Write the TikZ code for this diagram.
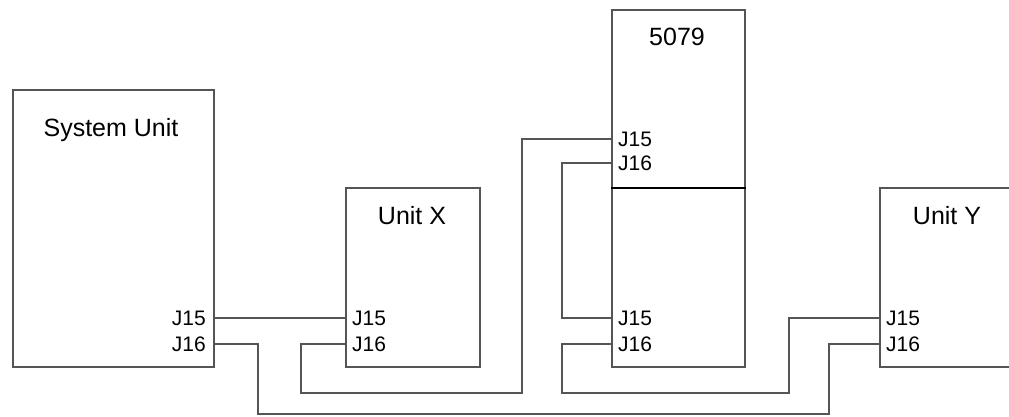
\documentclass[tikz,border=0pt]{standalone}
\usepackage{fontspec}
\setmainfont{Liberation Sans}
\definecolor{wire}{RGB}{85,85,85}
\tikzset{
%Define style for boxes, labels and cables
unitbox/.style={draw=wire, line width=1.8pt, fill=white, inner sep=0pt},
title/.style={font=\fontsize{25}{29}\selectfont, anchor=base},
jack/.style={font=\fontsize{21}{25}\selectfont, inner xsep=7pt, inner ysep=0pt},
cable/.style={draw=wire, line width=1.8pt},
}
\begin{document}
\begin{tikzpicture}[x=1pt,y=-1pt]

% picture frame
\clip (0,0) rectangle (1009,417);

% System Unit
\node[unitbox, anchor=north west, minimum width=201pt, minimum height=277pt] (su) at (12,89) {};
\node[title] (sutitle) at (111,137) {System Unit};
\node[jack, anchor=east] (suj15) at (213,318) {J15};
\node[jack, anchor=east] (suj16) at (213,344) {J16};

% Unit X
\node[unitbox, anchor=north west, minimum width=134pt, minimum height=179pt] (ux) at (345,187) {};
\node[title] (uxtitle) at (412,224) {Unit X};
\node[jack, anchor=west] (uxj15) at (345,318) {J15};
\node[jack, anchor=west] (uxj16) at (345,344) {J16};

% 5079, two halves
\node[unitbox, anchor=north west, minimum width=133pt, minimum height=357pt] (box) at (611,9) {};
\draw[line width=1.8pt] (box.west |- 0,188) coordinate (split) -- (box.east |- split);
\node[title] (boxtitle) at (677,46) {5079};
\node[jack, anchor=west] (upj15) at (611,139) {J15};
\node[jack, anchor=west] (upj16) at (611,163) {J16};
\node[jack, anchor=west] (loj15) at (611,318) {J15};
\node[jack, anchor=west] (loj16) at (611,344) {J16};

% Unit Y (runs off the right edge)
\node[unitbox, anchor=north west, minimum width=150pt, minimum height=179pt] (uy) at (879,187) {};
\node[title] (uytitle) at (947,224) {Unit Y};
\node[jack, anchor=west] (uyj15) at (879,318) {J15};
\node[jack, anchor=west] (uyj16) at (879,344) {J16};

% cables
\draw[cable] (suj15.east) -- (uxj15.west);
\draw[cable] (uxj16.west) -| (301,393) -| (522,139) -- (upj15.west);
\draw[cable] (upj16.west) -| (562,318) -- (loj15.west);
\draw[cable] (loj16.west) -| (562,393) -| (789,318) -- (uyj15.west);
\draw[cable] (suj16.east) -| (258,414) -| (829,344) -- (uyj16.west);

\end{tikzpicture}
\end{document}
